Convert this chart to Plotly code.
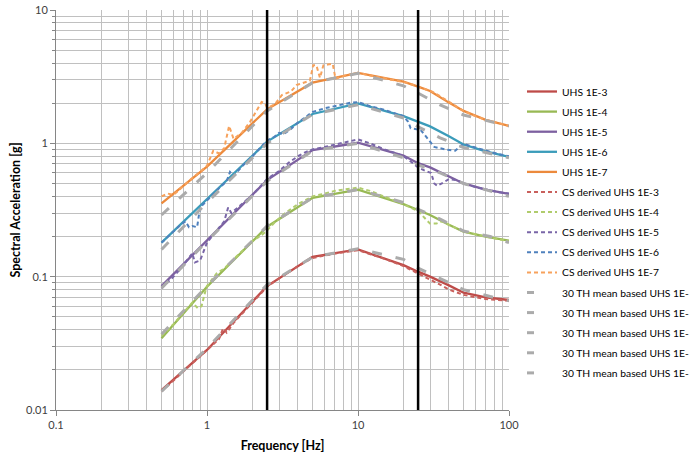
import plotly.graph_objects as go

# ---------------- data ----------------
freq_uhs = [0.5, 1, 2.5, 5, 10, 20, 25, 30, 40, 50, 70, 100]
uhs_1e3 = [0.0141, 0.0282, 0.085, 0.141, 0.16, 0.122, 0.109, 0.1, 0.086, 0.0758, 0.07, 0.0668]
uhs_1e4 = [0.0345, 0.084, 0.237, 0.39, 0.45, 0.35, 0.316, 0.29, 0.245, 0.218, 0.2, 0.186]
uhs_1e5 = [0.085, 0.188, 0.53, 0.89, 1.01, 0.81, 0.71, 0.66, 0.56, 0.5, 0.45, 0.417]
uhs_1e6 = [0.18, 0.38, 1.03, 1.66, 1.99, 1.6, 1.45, 1.34, 1.13, 0.98, 0.87, 0.79]
uhs_1e7 = [0.355, 0.67, 1.8, 2.85, 3.38, 2.9, 2.66, 2.47, 2.02, 1.75, 1.5, 1.35]

cs_f_1e3 = [0.5, 0.7, 1.0, 1.2, 1.28, 1.35, 1.5, 2.0, 2.5, 3, 4, 5, 7, 10, 15, 20, 25, 30, 35, 40, 50, 70, 100]
cs_1e3 = [0.0138, 0.0196, 0.028, 0.034, 0.041, 0.038, 0.045, 0.064, 0.084, 0.097, 0.12, 0.138, 0.149, 0.158,
          0.136, 0.12, 0.106, 0.095, 0.087, 0.08, 0.073, 0.068, 0.066]
cs_f_1e4 = [0.5, 0.6, 0.7, 0.8, 0.87, 0.92, 0.97, 1.0, 1.16, 1.3, 1.5, 1.8, 2.0, 2.3, 2.5, 2.8, 3.3, 4, 5, 6, 7, 8,
            10, 12, 15, 20, 25, 28, 30, 33, 36, 40, 50, 70, 100]
cs_1e4 = [0.036, 0.044, 0.054, 0.064, 0.058, 0.06, 0.076, 0.085, 0.106, 0.115, 0.135, 0.165, 0.185, 0.205, 0.222,
          0.255, 0.3, 0.35, 0.4, 0.42, 0.44, 0.45, 0.465, 0.44, 0.4, 0.35, 0.31, 0.27, 0.25, 0.25, 0.26, 0.245,
          0.218, 0.2, 0.184]
cs_f_1e5 = [0.5, 0.6, 0.67, 0.75, 0.8, 0.83, 0.9, 1.0, 1.1, 1.3, 1.38, 1.45, 1.6, 2.0, 2.5, 3, 3.5, 4, 4.5, 5, 6, 7,
            8, 9, 10, 12, 15, 18, 20, 22, 25, 28, 30.5, 32, 33.5, 37, 40, 45, 50, 60, 70, 85, 100]
cs_1e5 = [0.082, 0.1, 0.115, 0.135, 0.15, 0.128, 0.132, 0.18, 0.205, 0.26, 0.33, 0.3, 0.33, 0.41, 0.54, 0.62, 0.72,
          0.8, 0.86, 0.9, 0.94, 0.98, 1.02, 1.05, 1.07, 1.0, 0.9, 0.84, 0.8, 0.74, 0.66, 0.62, 0.6, 0.5, 0.48,
          0.51, 0.54, 0.53, 0.5, 0.47, 0.45, 0.43, 0.42]
cs_f_1e6 = [0.5, 0.6, 0.67, 0.72, 0.76, 0.8, 0.86, 0.9, 1.0, 1.2, 1.35, 1.42, 1.5, 1.7, 2.0, 2.3, 2.5, 2.8, 3.0,
            3.2, 3.6, 4.0, 4.5, 5.0, 6, 7, 8, 9, 10, 12, 15, 18, 20, 21.5, 22.3, 26, 32, 38, 44, 48, 50, 60, 70,
            85, 100]
cs_1e6 = [0.18, 0.22, 0.245, 0.26, 0.235, 0.24, 0.235, 0.33, 0.375, 0.46, 0.52, 0.61, 0.57, 0.67, 0.8, 0.95, 1.05,
          1.12, 1.2, 1.17, 1.28, 1.43, 1.58, 1.72, 1.83, 1.9, 1.97, 2.02, 2.04, 1.9, 1.78, 1.65, 1.6, 1.45, 1.3,
          1.26, 0.94, 0.9, 0.88, 0.96, 0.99, 0.93, 0.88, 0.83, 0.8]
cs_f_1e7 = [0.5, 0.55, 0.6, 0.67, 0.75, 0.8, 0.9, 1.0, 1.1, 1.2, 1.3, 1.4, 1.5, 1.7, 1.93, 2.08, 2.3, 2.42, 2.5,
            2.8, 3.13, 3.6, 3.93, 4.57, 4.8, 5.05, 5.3, 5.6, 5.9, 6.3, 6.8, 7.1, 8, 9, 10, 12.5, 15, 18, 20, 22,
            25, 28, 31, 34, 38, 42, 46, 50, 60, 70, 85, 100]
cs_1e7 = [0.4, 0.42, 0.41, 0.46, 0.51, 0.55, 0.61, 0.68, 0.88, 0.84, 0.92, 1.35, 1.08, 1.2, 1.45, 1.69, 2.04, 2.0,
          1.85, 1.95, 2.3, 2.45, 2.74, 2.9, 2.95, 3.85, 3.85, 3.1, 3.85, 3.9, 3.95, 3.05, 3.2, 3.3, 3.38, 3.2,
          3.08, 2.95, 2.88, 2.8, 2.66, 2.55, 2.44, 2.3, 2.12, 1.96, 1.84, 1.75, 1.6, 1.5, 1.42, 1.35]

freq_th = [0.5, 1, 2.5, 5, 10, 20, 25, 35, 50, 75, 100]
th_1e3 = [0.0138, 0.029, 0.087, 0.14, 0.162, 0.135, 0.116, 0.097, 0.08, 0.071, 0.066]
th_1e4 = [0.037, 0.085, 0.24, 0.39, 0.45, 0.36, 0.32, 0.27, 0.22, 0.2, 0.18]
th_1e5 = [0.082, 0.185, 0.52, 0.88, 1.0, 0.78, 0.69, 0.6, 0.5, 0.44, 0.4]
th_1e6 = [0.16, 0.36, 1.0, 1.65, 1.95, 1.55, 1.33, 1.1, 0.93, 0.84, 0.78]
th_1e7 = [0.29, 0.6, 1.75, 2.85, 3.35, 2.7, 2.38, 1.94, 1.63, 1.47, 1.35]

levels = ["1E-3", "1E-4", "1E-5", "1E-6", "1E-7"]
marker_freqs = [2.5, 25]

x_tick_vals = [0.1, 1, 10, 100]
x_tick_text = ["0.1", "1", "10", "100"]
y_tick_vals = [0.01, 0.1, 1, 10]
y_tick_text = ["0.01", "0.1", "1", "10"]

# ---------------- styles ----------------
uhs_colors = ["#BE4B48", "#98B954", "#7D60A0", "#3B9CBA", "#EC8A3C"]
cs_colors = ["#C9605C", "#B0CC6C", "#7966A8", "#4F81BD", "#F7A25C"]
gray = "#ABABAB"

fig = go.Figure()

uhs_data = [uhs_1e3, uhs_1e4, uhs_1e5, uhs_1e6, uhs_1e7]
for lvl, vals, col in zip(levels, uhs_data, uhs_colors):
    fig.add_trace(go.Scatter(x=freq_uhs, y=vals, mode="lines", name="UHS " + lvl,
                             line=dict(color=col, width=2.3), legendgroup="u" + lvl))

cs_data = [(cs_f_1e3, cs_1e3), (cs_f_1e4, cs_1e4), (cs_f_1e5, cs_1e5), (cs_f_1e6, cs_1e6), (cs_f_1e7, cs_1e7)]
for lvl, (fx, vals), col in zip(levels, cs_data, cs_colors):
    fig.add_trace(go.Scatter(x=fx, y=vals, mode="lines", name="CS derived UHS " + lvl,
                             line=dict(color=col, width=2, dash="4px,3px"), legendgroup="c" + lvl))

th_data = [th_1e3, th_1e4, th_1e5, th_1e6, th_1e7]
for lvl, vals in zip(levels, th_data):
    fig.add_trace(go.Scatter(x=freq_th, y=vals, mode="lines", name="30 TH mean based UHS 1E-",
                             line=dict(color=gray, width=3, dash="10px,14px"), showlegend=False))
# legend entries for the gray series (short single dash symbol)
for lvl in levels:
    fig.add_trace(go.Scatter(x=[None], y=[None], mode="lines", name="30 TH mean based UHS 1E-",
                             line=dict(color=gray, width=3, dash="7px,40px"), legendgroup="t" + lvl))

for f in marker_freqs:
    fig.add_shape(type="line", xref="x", yref="paper", x0=f, x1=f, y0=0, y1=1,
                  line=dict(color="black", width=2.5))

grid_col = "#C0C0C0"
title_font = dict(family="Lato", size=12.5, color="#000000", weight="bold")
fig.update_xaxes(type="log", range=[-1, 2], tickvals=x_tick_vals, ticktext=x_tick_text,
                 showgrid=True, gridcolor=grid_col, gridwidth=1,
                 minor=dict(dtick="D1", showgrid=True, gridcolor=grid_col, gridwidth=1, ticks=""),
                 showline=True, linecolor="#868686", linewidth=1, ticks="outside", ticklen=5,
                 tickcolor="#868686", zeroline=False, automargin=False,
                 title=dict(text="Frequency [Hz]", font=title_font, standoff=11),
                 tickfont=dict(family="Lato", size=11, color="#404040"))
fig.update_yaxes(type="log", range=[-2, 1], tickvals=y_tick_vals, ticktext=y_tick_text,
                 showgrid=True, gridcolor=grid_col, gridwidth=1,
                 minor=dict(dtick="D1", showgrid=True, gridcolor=grid_col, gridwidth=1, ticks="outside",
                            ticklen=3, tickcolor="#868686"),
                 showline=True, linecolor="#868686", linewidth=1, ticks="outside", ticklen=5,
                 tickcolor="#868686", zeroline=False, automargin=False,
                 title=dict(text="Spectral Acceleration [g]", font=title_font, standoff=2),
                 tickfont=dict(family="Lato", size=11, color="#404040"))

fig.update_layout(
    width=692, height=454,
    margin=dict(l=56, r=183, t=10, b=44, autoexpand=False),
    paper_bgcolor="white", plot_bgcolor="white",
    font=dict(family="Lato", size=11, color="#000000"),
    legend=dict(xref="container", x=522 / 692, y=0.8325, xanchor="left", yanchor="top",
                traceorder="grouped", tracegroupgap=1.1,
                font=dict(family="Lato", size=10.3, color="#000000"),
                bgcolor="rgba(0,0,0,0)"),
    showlegend=True,
)
fig.write_html("out.html")
